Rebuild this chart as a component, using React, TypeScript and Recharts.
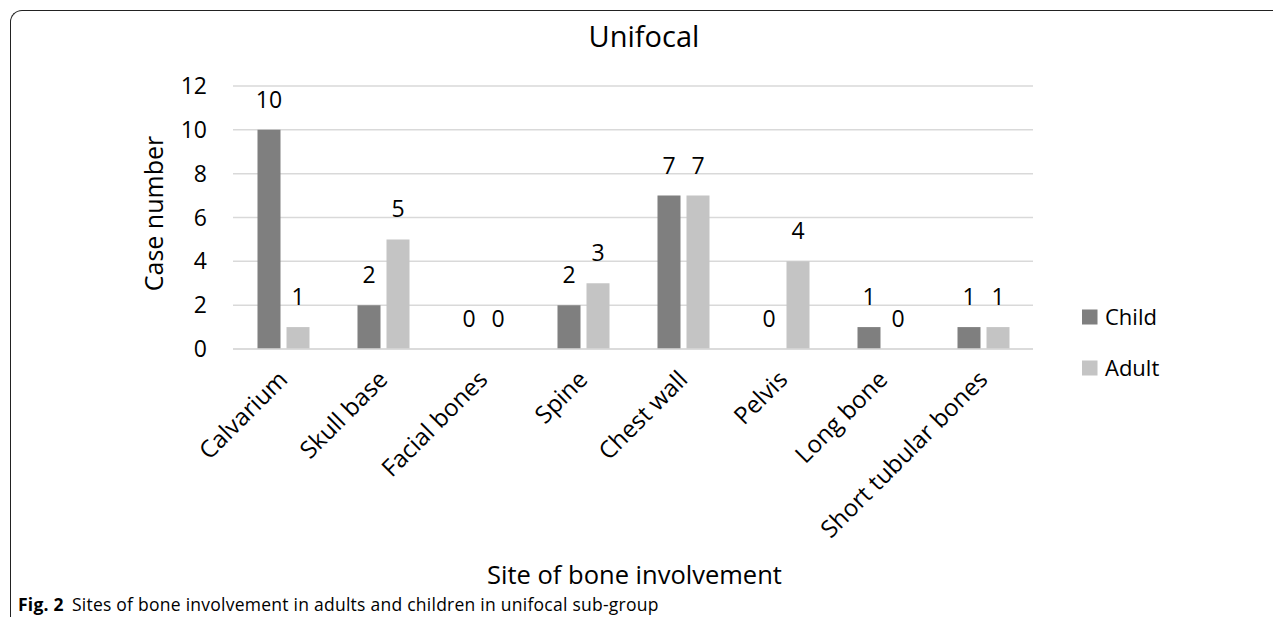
import React from "react";
import { BarChart, Bar, XAxis, YAxis, CartesianGrid, LabelList } from "recharts";

const categories = ["Calvarium", "Skull base", "Facial bones", "Spine", "Chest wall", "Pelvis", "Long bone", "Short tubular bones"];
const childValues = [10, 2, 0, 2, 7, 0, 1, 1];
const adultValues = [1, 5, 0, 3, 7, 4, 0, 1];
const yTicks = [0, 2, 4, 6, 8, 10, 12];
const seriesNames = ["Child", "Adult"];
const seriesColors = ["#7f7f7f", "#c4c4c4"];

const data = categories.map((c, i) => ({ site: c, Child: childValues[i], Adult: adultValues[i] }));

const FONT = "'Open Sans', sans-serif";

const XTick = (props: any) => {
  const { x, y, payload } = props;
  const ax = x + 6;
  const ay = y + 32;
  return (
    <text x={ax} y={ay} transform={`rotate(-45, ${ax}, ${ay})`} textAnchor="end" fontSize={24} fill="#000" fontFamily={FONT}>
      {payload.value}
    </text>
  );
};

const ValueLabel = (props: any) => {
  const { x, y, width, value } = props;
  return (
    <text x={x + width / 2} y={y - 22} textAnchor="middle" fontSize={23} fill="#000" fontFamily={FONT}>
      {value}
    </text>
  );
};

export default function App() {
  return (
    <div style={{ position: "relative", width: 1281, height: 625, margin: -8, overflow: "hidden", background: "#fff" }}>
      <div
        style={{
          position: "absolute",
          left: 10,
          top: 10,
          width: 1320,
          height: 622,
          borderLeft: "1.3px solid #222",
          borderTop: "1.3px solid #222",
          borderBottom: "1.3px solid #222",
          borderTopLeftRadius: 12,
          borderBottomLeftRadius: 12,
          boxSizing: "border-box",
        }}
      />
      <div style={{ position: "absolute", left: 0, top: 0 }}>
        <BarChart
          width={1281}
          height={625}
          data={data}
          margin={{ top: 86, right: 248, bottom: 0, left: 143 }}
          barCategoryGap="24.5%"
          barGap={6}
        >
          <CartesianGrid horizontal={true} vertical={false} stroke="#d9d9d9" strokeWidth={1.5} />
          <XAxis
            dataKey="site"
            height={276}
            interval={0}
            tickLine={false}
            tickSize={0}
            tickMargin={0}
            axisLine={{ stroke: "#d9d9d9", strokeWidth: 1.5 }}
            tick={<XTick />}
          />
          <YAxis
            width={90}
            domain={[0, 12]}
            ticks={yTicks}
            interval={0}
            axisLine={false}
            tickLine={false}
            tickSize={0}
            tickMargin={26}
            tick={{ fontSize: 23, fill: "#000", fontFamily: FONT }}
          />
          <Bar dataKey="Child" name={seriesNames[0]} fill={seriesColors[0]} minPointSize={0.01} isAnimationActive={false}>
            <LabelList dataKey="Child" content={<ValueLabel />} />
          </Bar>
          <Bar dataKey="Adult" name={seriesNames[1]} fill={seriesColors[1]} minPointSize={0.01} isAnimationActive={false}>
            <LabelList dataKey="Adult" content={<ValueLabel />} />
          </Bar>
        </BarChart>
      </div>
      <svg width={1281} height={625} style={{ position: "absolute", left: 0, top: 0, pointerEvents: "none" }}>
        <text x={644} y={47} textAnchor="middle" fontSize={29} fill="#000" fontFamily={FONT}>Unifocal</text>
        <text x={163} y={213.5} transform="rotate(-90, 163, 213.5)" textAnchor="middle" fontSize={25} fill="#000" fontFamily={FONT}>Case number</text>
        <text x={634.5} y={584} textAnchor="middle" fontSize={25.5} fill="#000" fontFamily={FONT}>Site of bone involvement</text>
        {seriesNames.map((n, i) => (
          <g key={n}>
            <rect x={1082} y={309.5 + i * 51} width={15.5} height={15} fill={seriesColors[i]} />
            <text x={1105} y={325 + i * 51} fontSize={22} fill="#000" fontFamily={FONT}>{n}</text>
          </g>
        ))}
        <text x={18} y={611} fontSize={17.5} fill="#000" fontFamily={FONT} letterSpacing={0.25}>
          <tspan fontWeight="bold">Fig. 2</tspan>
          <tspan dx={8}>Sites of bone involvement in adults and children in unifocal sub-group</tspan>
        </text>
      </svg>
    </div>
  );
}
